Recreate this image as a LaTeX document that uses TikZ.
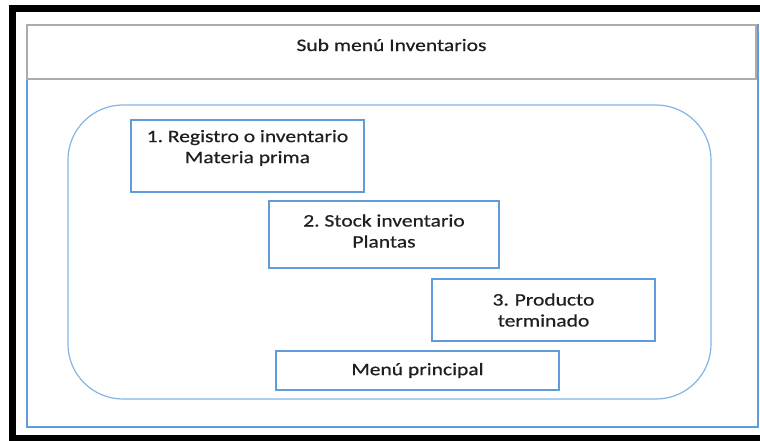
\documentclass[tikz,border=0pt]{standalone}
\usepackage{fontspec}
\setmainfont{Carlito}[FakeStretch=1.23, FakeBold=0.6]
\usepackage{tikz}
\usetikzlibrary{positioning}
\frenchspacing

\definecolor{boxblue}{RGB}{96,156,218}
\definecolor{panblue}{RGB}{130,180,228}
\definecolor{ttlgray}{RGB}{172,172,172}

\begin{document}
\begin{tikzpicture}[x=1pt, y=-1pt,
  b/.style={draw=boxblue, line width=1.3pt, align=center, inner sep=0pt, text=black!88,
            font=\fontsize{17.5}{21}\selectfont},
  t/.style={draw=ttlgray, line width=1.5pt, inner sep=0pt},
  lbl/.style={font=\fontsize{17.5}{21}\selectfont, text=black!88, align=center},
  p/.style={draw=panblue, line width=1.2pt, rounded corners=55pt, inner sep=0pt}
]
\useasboundingbox (0,0) rectangle (760,441);
\clip (0,0) rectangle (760,441);

% outer frame
\draw[line width=7pt] (12,8.5) rectangle (780,438);
\draw[draw=boxblue, line width=1.3pt] (27,25) rectangle (758,427);

% title bar
\node[t, minimum width=729pt, minimum height=54pt] (T) at (391.5,52) {};
\node[lbl] (TT) at (391.5,45) {Sub menú Inventarios};

% panel
\node[p, minimum width=643pt, minimum height=294pt] (P) at (389.5,252) {};

% options
\node[b, minimum width=233pt, minimum height=72pt] (A) at (247.5,156) {};
\node[lbl] (AT) at (247.5,148) {1. Registro o inventario\\Materia prima};

\node[b, minimum width=230pt, minimum height=67pt] (B) at (384,234.5) {};
\node[lbl] (BT) at (384,231) {2. Stock inventario\\Plantas};

\node[b, minimum width=223pt, minimum height=62pt, text width=223pt]
  (C) at (543.5,310) {3. Producto\\terminado};

\node[b, minimum width=283pt, minimum height=39pt] (M) at (417.5,370.5) {Menú principal};
\end{tikzpicture}
\end{document}
